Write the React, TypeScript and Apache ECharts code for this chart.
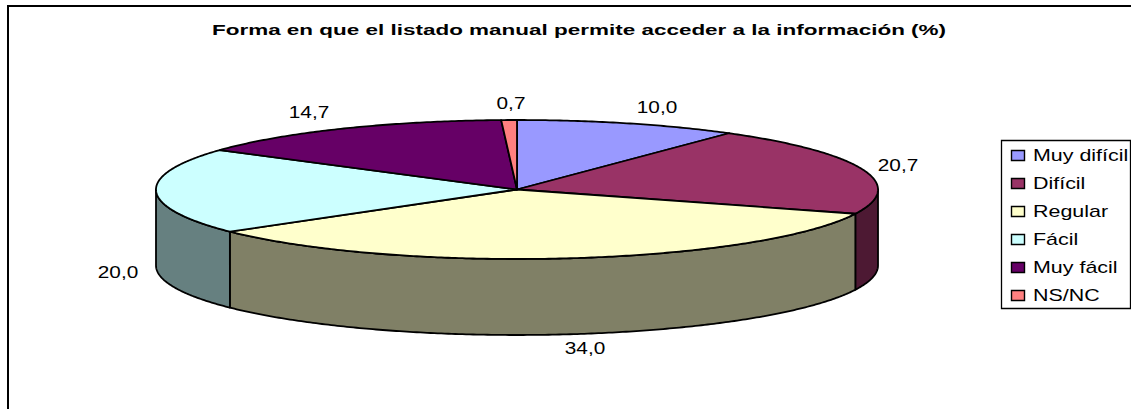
import React, { useEffect, useRef } from "react";
import * as echarts from "echarts";

const titleText = "Forma en que el listado manual permite acceder a la información (%)";
const categories = ["Muy difícil", "Difícil", "Regular", "Fácil", "Muy fácil", "NS/NC"];
const values = [10.0, 20.7, 34.0, 20.0, 14.7, 0.7];
const topColors = ["#9999FF", "#993366", "#FFFFCC", "#CCFFFF", "#660066", "#FF8080"];
const sideColors = ["#4D4D80", "#4D1933", "#808066", "#668080", "#330033", "#804040"];
const labelAnchors = [
  [657, 107],
  [898, 165],
  [585, 348],
  [118, 272],
  [309, 112],
  [511, 103],
];

const FONT = '"Liberation Sans", Arial, sans-serif';
const DEPTH = 76;
const total = values.reduce((a, b) => a + b, 0);

function starts(): number[] {
  const out: number[] = [];
  let c = 0;
  for (const v of values) {
    out.push(c);
    c += v;
  }
  return out;
}

function App() {
  const ref = useRef<HTMLDivElement>(null);
  useEffect(() => {
    document.body.style.margin = "0";
    const chart = echarts.init(ref.current!, undefined, { renderer: "svg" });
    const st = starts();
    const fmt = (v: number) => v.toFixed(1).replace(".", ",");

    const renderItem = (params: any, api: any) => {
      const i = params.dataIndex;
      const a0 = (api.value(0) / total) * Math.PI * 2;
      const a1 = ((api.value(0) + api.value(1)) / total) * Math.PI * 2;
      const pt = (a: number) => api.coord([Math.sin(a), Math.cos(a)]);
      const center = api.coord([0, 0]);
      const arc = (from: number, to: number) => {
        const n = Math.max(2, Math.ceil((to - from) / 0.01));
        const pts: number[][] = [];
        for (let k = 0; k <= n; k++) pts.push(pt(from + ((to - from) * k) / n));
        return pts;
      };
      const children: any[] = [];
      // front wall: only the part of the rim with angle in [90°, 270°]
      const f0 = Math.max(a0, Math.PI / 2);
      const f1 = Math.min(a1, (Math.PI * 3) / 2);
      if (f1 > f0) {
        const rim = arc(f0, f1);
        const low = rim.map((p) => [p[0], p[1] + DEPTH]).reverse();
        children.push({
          type: "polygon",
          shape: { points: rim.concat(low) },
          style: { fill: sideColors[i], stroke: "#000", lineWidth: 1.8, lineJoin: "round" },
        });
      }
      children.push({
        type: "polygon",
        shape: { points: [center].concat(arc(a0, a1)) },
        style: { fill: topColors[i], stroke: "#000", lineWidth: 1.8, lineJoin: "round" },
      });
      return { type: "group", children };
    };

    const legendX = 1001.5;
    const legendY = 140.5;
    const rowH = 28;
    const legendChildren: any[] = [
      {
        type: "rect",
        shape: { x: legendX, y: legendY, width: 129, height: 168 },
        style: { fill: "#fff", stroke: "#000", lineWidth: 1.3 },
      },
    ];
    categories.forEach((c, i) => {
      const cy = legendY + 15 + i * rowH;
      legendChildren.push({
        type: "rect",
        shape: { x: 1011.5, y: cy - 5, width: 13, height: 10 },
        style: { fill: topColors[i], stroke: "#000", lineWidth: 1.4 },
      });
      legendChildren.push({
        type: "text",
        x: 1033,
        y: cy,
        scaleX: 1.34,
        style: { text: c, fill: "#000", font: `16px ${FONT}`, align: "left", verticalAlign: "middle" },
      });
    });

    const labels = values.map((v, i) => ({
      type: "text",
      x: labelAnchors[i][0],
      y: labelAnchors[i][1],
      scaleX: 1.3,
      style: { text: fmt(v), fill: "#000", font: `16px ${FONT}`, align: "center", verticalAlign: "middle" },
    }));

    chart.setOption({
      animation: false,
      backgroundColor: "#fff",
      grid: { left: 156, width: 722, top: 120, height: 139, containLabel: false },
      xAxis: { type: "value", min: -1, max: 1, show: false },
      yAxis: { type: "value", min: -1, max: 1, show: false },
      tooltip: { show: false },
      series: [
        {
          type: "custom",
          name: "Listado manual",
          coordinateSystem: "cartesian2d",
          renderItem,
          encode: { x: 0, y: 1 },
          clip: false,
          data: values.map((v, i) => ({ name: categories[i], value: [st[i], v] })),
        },
      ],
      graphic: [
        {
          type: "rect",
          z: -1,
          shape: { x: 8, y: 6, width: 1200, height: 500 },
          style: { fill: "#fff", stroke: "#000", lineWidth: 2 },
        },
        {
          type: "text",
          x: 579,
          y: 30,
          scaleX: 1.45,
          style: { text: titleText, fill: "#000", font: `bold 15.5px ${FONT}`, align: "center", verticalAlign: "middle" },
        },
        ...labels,
        ...legendChildren,
      ],
    });
    return () => chart.dispose();
  }, []);
  return <div ref={ref} style={{ width: 1131, height: 409 }} />;
}

export default App;
